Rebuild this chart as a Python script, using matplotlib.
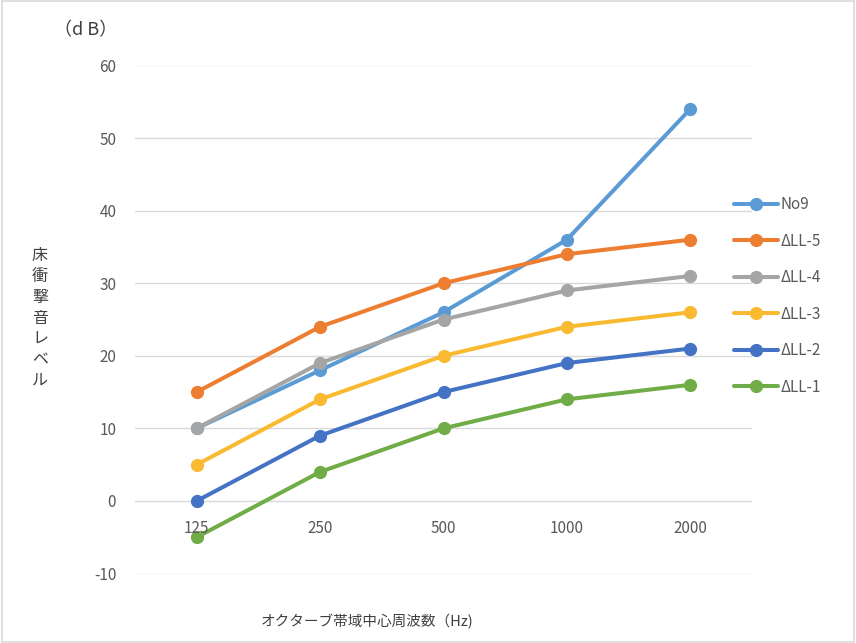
import matplotlib
matplotlib.use("Agg")
import matplotlib.pyplot as plt
from matplotlib.patches import Rectangle

plt.rcParams['font.family'] = ['Noto Sans CJK JP', 'DejaVu Sans']

categories = ["125", "250", "500", "1000", "2000"]
series_names = ["No9", "ΔLL-5", "ΔLL-4", "ΔLL-3", "ΔLL-2", "ΔLL-1"]
no9 = [10, 18, 26, 36, 54]
ll5 = [15, 24, 30, 34, 36]
ll4 = [10, 19, 25, 29, 31]
ll3 = [5, 14, 20, 24, 26]
ll2 = [0, 9, 15, 19, 21]
ll1 = [-5, 4, 10, 14, 16]
series_values = [no9, ll5, ll4, ll3, ll2, ll1]
colors = ["#5B9BD5", "#ED7D31", "#A5A5A5", "#F9BA32", "#4472C4", "#70AD47"]
yticks = [-10, 0, 10, 20, 30, 40, 50, 60]

fig = plt.figure(figsize=(8.56, 6.43), dpi=100)
ax = fig.add_axes([135/856, 1-573.5/643, (752-135)/856, (573.5-65.5)/643])

x = list(range(len(categories)))
for name, vals, c in zip(series_names, series_values, colors):
    ax.plot(x, vals, color=c, lw=2.9, marker='o', ms=8.5, label=name,
            solid_capstyle='round', zorder=3)

ax.set_xlim(-0.5, len(categories) - 0.5)
ax.set_ylim(-10, 60)
ax.set_yticks(yticks)
ax.set_yticklabels([str(t) for t in yticks])
ax.tick_params(axis='y', length=0, pad=13.5, labelsize=11, labelcolor='#595959')
ax.set_xticks([])
ax.grid(axis='y', color='#D9D9D9', lw=1.0, zorder=0)
for s in ax.spines.values():
    s.set_visible(False)

for xi, lab in zip(x, categories):
    ax.annotate(lab, (xi, 0), xytext=(0, -19.5), textcoords='offset points',
                ha='center', va='center', fontsize=11, color='#595959')

fig.text(54/856, 1-30/643, "（d B）", fontsize=13, color='#404040', va='center', ha='left')
fig.text(40/856, 1-318/643, "\n".join("床衝撃音レベル"), fontsize=11.5, color='#404040',
         va='center', ha='center', linespacing=1.3)
fig.text(367/856, 1-622/643, "オクターブ帯域中心周波数（Hz)", fontsize=10.5, color='#404040',
         va='center', ha='center')

leg = fig.legend(loc='upper left', bbox_to_anchor=(734/856, 1-196/643), frameon=False,
                 fontsize=11, handlelength=2.9, labelspacing=1.28, borderpad=0,
                 handletextpad=0.15, borderaxespad=0)
for t in leg.get_texts():
    t.set_color('#595959')

fig.patches.append(Rectangle((0.002, 0.002), 0.996, 0.996, transform=fig.transFigure,
                             fill=False, edgecolor='#D9D9D9', lw=1.2))

fig.savefig("out.png", dpi=100)
